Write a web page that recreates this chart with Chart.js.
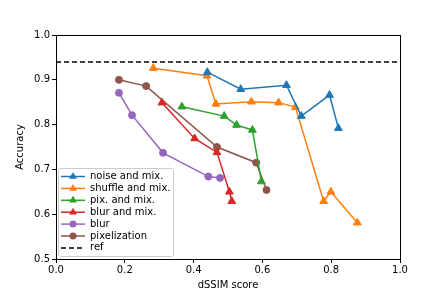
<!DOCTYPE html>
<html>
<head>
<meta charset="utf-8">
<script src="https://cdn.jsdelivr.net/npm/chart.js@4"></script>
<style>
  html, body { margin: 0; padding: 0; background: #fff; }
  #wrap { width: 444px; height: 296px; }
</style>
</head>
<body>
<div id="wrap"><canvas id="chart"></canvas></div>
<script>
// data
const noiseX   = [0.440, 0.537, 0.670, 0.713, 0.795, 0.821];
const noiseY   = [0.917, 0.879, 0.888, 0.819, 0.866, 0.792];
const shuffleX = [0.283, 0.439, 0.465, 0.568, 0.647, 0.696, 0.778, 0.799, 0.876];
const shuffleY = [0.926, 0.909, 0.846, 0.851, 0.849, 0.839, 0.629, 0.650, 0.581];
const pixMixX  = [0.366, 0.489, 0.525, 0.571, 0.597];
const pixMixY  = [0.840, 0.819, 0.799, 0.788, 0.673];
const blurMixX = [0.308, 0.403, 0.468, 0.504, 0.511];
const blurMixY = [0.849, 0.769, 0.738, 0.650, 0.629];
const blurX    = [0.183, 0.221, 0.311, 0.443, 0.477];
const blurY    = [0.871, 0.821, 0.737, 0.684, 0.681];
const pixelX   = [0.183, 0.262, 0.468, 0.582, 0.612];
const pixelY   = [0.900, 0.886, 0.750, 0.715, 0.654];
const refAcc   = 0.94;
const xTicks   = [0.0, 0.2, 0.4, 0.6, 0.8, 1.0];
const yTicks   = [0.5, 0.6, 0.7, 0.8, 0.9, 1.0];

const FONT = 'DejaVu Sans';
const pts = (xs, ys) => xs.map((x, i) => ({ x: x, y: ys[i] }));

function series(label, xs, ys, color, marker) {
    return {
        label: label,
        data: pts(xs, ys),
        borderColor: color,
        backgroundColor: color,
        borderWidth: 1.5,
        pointStyle: marker,
        pointRadius: marker === 'triangle' ? 4.5 : 3.5,
        pointBorderWidth: 1,
        showLine: true,
        tension: 0
    };
}

const datasets = [
    series('noise and mix.', noiseX, noiseY, '#1f77b4', 'triangle'),
    series('shuffle and mix.', shuffleX, shuffleY, '#ff7f0e', 'triangle'),
    series('pix. and mix.', pixMixX, pixMixY, '#2ca02c', 'triangle'),
    series('blur and mix.', blurMixX, blurMixY, '#d62728', 'triangle'),
    series('blur', blurX, blurY, '#9467bd', 'circle'),
    series('pixelization', pixelX, pixelY, '#8c564b', 'circle'),
    {
        label: 'ref',
        data: [{ x: 0, y: refAcc }, { x: 1, y: refAcc }],
        borderColor: '#000',
        borderWidth: 1.5,
        borderDash: [5, 3],
        pointRadius: 0,
        showLine: true
    }
];

// box around the axes + legend drawn inside the plot
const frameAndLegend = {
    id: 'frameAndLegend',
    afterDraw(chart) {
        const ctx = chart.ctx;
        const a = chart.chartArea;
        ctx.save();
        ctx.strokeStyle = '#000';
        ctx.lineWidth = 1;
        ctx.strokeRect(Math.round(a.left) + 0.5, Math.round(a.top) + 0.5,
                       Math.round(a.right - a.left), Math.round(a.bottom - a.top));

        const lx = a.left + 2, ly = a.top + 133, lw = 115, lh = 88, row = 11.9;
        ctx.fillStyle = 'rgba(255,255,255,0.8)';
        ctx.strokeStyle = '#cccccc';
        ctx.beginPath();
        ctx.roundRect(lx + 0.5, ly + 0.5, lw, lh, 2);
        ctx.fill();
        ctx.stroke();

        ctx.font = '10px ' + FONT;
        ctx.textBaseline = 'middle';
        chart.data.datasets.forEach((ds, i) => {
            const y = ly + 8.5 + i * row;
            ctx.strokeStyle = ds.borderColor;
            ctx.lineWidth = 1.5;
            ctx.setLineDash(ds.borderDash || []);
            ctx.beginPath();
            ctx.moveTo(lx + 3, y);
            ctx.lineTo(lx + 27, y);
            ctx.stroke();
            ctx.setLineDash([]);
            if (ds.pointRadius) {
                ctx.fillStyle = ds.borderColor;
                ctx.beginPath();
                if (ds.pointStyle === 'triangle') {
                    const r = 4.5;
                    ctx.moveTo(lx + 15, y - r);
                    ctx.lineTo(lx + 15 + r * 0.87, y + r * 0.5);
                    ctx.lineTo(lx + 15 - r * 0.87, y + r * 0.5);
                    ctx.closePath();
                } else {
                    ctx.arc(lx + 15, y, 3.5, 0, Math.PI * 2);
                }
                ctx.fill();
            }
            ctx.fillStyle = '#000';
            ctx.fillText(ds.label, lx + 32, y);
        });
        ctx.restore();
    }
};

const config = {
    type: 'scatter',
    data: { datasets },
    options: {
        responsive: false,
        animation: false,
        layout: { padding: { left: 14, right: 44, top: 35, bottom: 5 } },
        plugins: { legend: { display: false }, tooltip: { enabled: false } },
        scales: {
            x: {
                type: 'linear',
                min: 0, max: 1,
                afterBuildTicks: s => { s.ticks = xTicks.map(v => ({ value: v })); },
                afterFit: s => { s.height = 32; },
                grid: { display: true, drawOnChartArea: false, color: '#000', tickLength: 4 },
                border: { display: true, color: '#000' },
                ticks: {
                    color: '#000', font: { family: FONT, size: 10 }, padding: 1,
                    maxRotation: 0, callback: v => v.toFixed(1)
                },
                title: { display: true, text: 'dSSIM score', color: '#000',
                         font: { family: FONT, size: 10 }, padding: { top: 1, bottom: 0 } }
            },
            y: {
                type: 'linear',
                min: 0.5, max: 1,
                afterBuildTicks: s => { s.ticks = yTicks.map(v => ({ value: v })); },
                afterFit: s => { s.width = 42; },
                grid: { display: true, drawOnChartArea: false, color: '#000', tickLength: 4 },
                border: { display: true, color: '#000' },
                ticks: {
                    color: '#000', font: { family: FONT, size: 10 }, padding: 2,
                    callback: v => v.toFixed(1)
                },
                title: { display: true, text: 'Accuracy', color: '#000',
                         font: { family: FONT, size: 10 }, padding: { top: 0, bottom: 4 } }
            }
        }
    },
    plugins: [frameAndLegend]
};

const canvas = document.getElementById('chart');
canvas.width = 444;
canvas.height = 296;
const myChart = new Chart(canvas, config);
</script>
</body>
</html>
